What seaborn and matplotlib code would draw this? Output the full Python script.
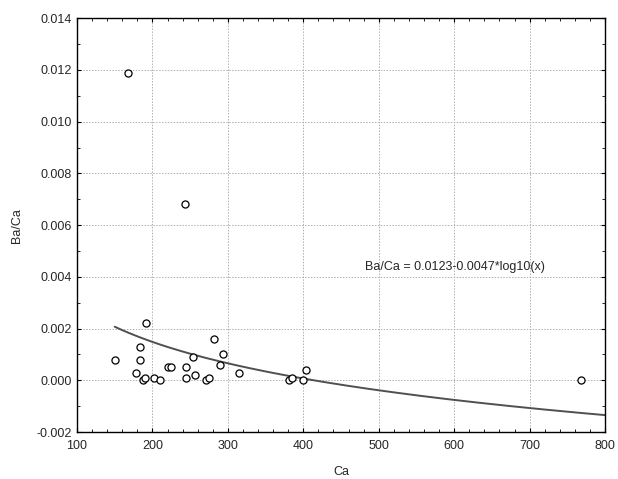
import matplotlib
matplotlib.use("Agg")
import matplotlib.pyplot as plt
import numpy as np
import pandas as pd
import seaborn as sns
from matplotlib.ticker import MultipleLocator, FormatStrFormatter

ca = [150, 168, 178, 183, 184, 187, 190, 191, 202, 210, 221, 225, 243, 244,
      245, 254, 256, 271, 275, 281, 290, 293, 315, 381, 385, 399, 404, 768]
ba_ca = [0.0008, 0.0119, 0.0003, 0.0008, 0.0013, 0.0000, 0.0001, 0.0022,
         0.0001, 0.0000, 0.0005, 0.0005, 0.0068, 0.0005, 0.0001, 0.0009,
         0.0002, 0.0000, 0.0001, 0.0016, 0.0006, 0.0010, 0.0003, 0.0000,
         0.0001, 0.0000, 0.0004, 0.0000]

# fitted curve Ba/Ca = a - b*log10(x)
fit_a = 0.0123
fit_b = 0.0047
fit_range = [150, 800]
fit_label = "Ba/Ca = 0.0123-0.0047*log10(x)"

pts = pd.DataFrame({"Ca": ca, "Ba/Ca": ba_ca})
xf = np.linspace(fit_range[0], fit_range[1], 200)
fit = pd.DataFrame({"Ca": xf, "Ba/Ca": fit_a - fit_b * np.log10(xf)})

sns.set_style("ticks")
plt.rcParams["font.family"] = ["Liberation Sans", "DejaVu Sans"]

fig = plt.figure(figsize=(6.18, 4.79), dpi=100)
ax = fig.add_axes([0.1246, 0.098, 0.8544, 0.864])

sns.lineplot(data=fit, x="Ca", y="Ba/Ca", ax=ax, color="#505050", linewidth=1.4)
sns.scatterplot(data=pts, x="Ca", y="Ba/Ca", ax=ax, marker="o", s=26,
                facecolor="white", edgecolor="black", linewidth=0.9, zorder=3)

ax.set_xlim(100, 800)
ax.set_ylim(-0.002, 0.014)
ax.xaxis.set_major_locator(MultipleLocator(100))
ax.xaxis.set_minor_locator(MultipleLocator(20))
ax.yaxis.set_major_locator(MultipleLocator(0.002))
ax.yaxis.set_minor_locator(MultipleLocator(0.001))
ax.yaxis.set_major_formatter(FormatStrFormatter("%.3f"))

ax.grid(True, which="major", color="#b0b0b0", linestyle=(0, (1.5, 1.5)), linewidth=0.7)
ax.tick_params(which="both", direction="in", top=True, right=True, labelsize=9,
               color="black")
ax.tick_params(which="major", length=3)
ax.tick_params(axis="x", which="major", pad=6)
ax.tick_params(which="minor", length=2)
for side in ax.spines.values():
    side.set_color("black")
    side.set_linewidth(1.0)

ax.set_xlabel("Ca", fontsize=9, labelpad=10)
ax.set_ylabel("Ba/Ca", fontsize=9, labelpad=10)

ax.text(482, 0.0044, fit_label, fontsize=9, ha="left", va="center")

fig.savefig("out.png", dpi=100)
